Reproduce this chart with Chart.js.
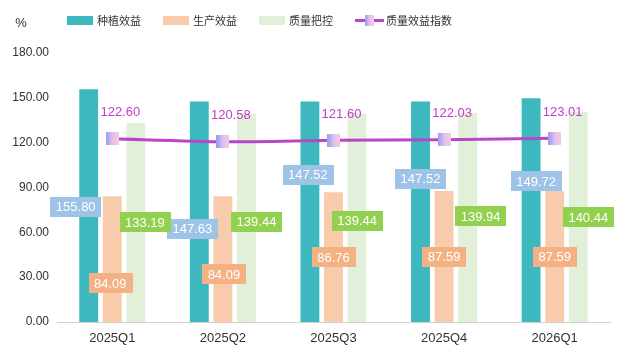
<!DOCTYPE html>
<html>
<head>
<meta charset="utf-8">
<script src="https://cdn.jsdelivr.net/npm/chart.js@4"></script>
<style>
  html, body { margin: 0; padding: 0; background: #fff; }
  #wrap { width: 626px; height: 358px; }
</style>
</head>
<body>
<div id="wrap"><canvas id="qualityChart" width="626" height="358"></canvas></div>
<script>
// data
const categories = ['2025Q1', '2025Q2', '2025Q3', '2025Q4', '2026Q1'];
const plantingBenefit = [155.80, 147.63, 147.52, 147.52, 149.72];
const productionBenefit = [84.09, 84.09, 86.76, 87.59, 87.59];
const qualityControl = [133.19, 139.44, 139.44, 139.94, 140.44];
const qualityIndex = [122.60, 120.58, 121.60, 122.03, 123.01];
const yMin = 0, yMax = 180, yStep = 30;

const FONT = '"Liberation Sans", Arial, "Noto Sans CJK SC", sans-serif';
const CJK = '"Noto Sans CJK SC", "Liberation Sans", sans-serif';

// label nudges (px) - labels were moved around in the original
const labelNudge = [
  { dx: [-13, -7, -2, 0, 5], dy: [1, 17, -37, -33, -29], bg: '#9dc3e6' },
  { dx: [-2, 1, 0, 0, 0], dy: [24, 15, 0, 0, 0], bg: '#f4b183' },
  { dx: [9, 10, 0, 13, 10], dy: [0, 4, 3, -1, 0], bg: '#92d050' }
];

// gradient square for the line points
function makeMarker(w, h) {
  const c = document.createElement('canvas');
  c.width = w; c.height = h;
  const g = c.getContext('2d');
  const grad = g.createLinearGradient(0, 0, w, 0);
  grad.addColorStop(0, '#9a98ee');
  grad.addColorStop(0.55, '#e2c4ee');
  grad.addColorStop(1, '#f7c9df');
  g.fillStyle = grad;
  g.fillRect(0, 0, w, h);
  return c;
}
const marker = makeMarker(13, 13);

const extras = {
  id: 'extras',
  afterDraw(chart) {
    const ctx = chart.ctx;
    ctx.save();
    // axis unit
    ctx.fillStyle = '#333';
    ctx.font = '13px ' + FONT;
    ctx.textAlign = 'center';
    ctx.textBaseline = 'middle';
    ctx.fillText('%', 21, 23);

    // legend
    let x = 67;
    const ly = 20;
    ctx.font = '11px ' + CJK;
    ctx.textAlign = 'left';
    chart.data.datasets.forEach((ds, i) => {
      if (ds.type === 'line') {
        ctx.strokeStyle = ds.borderColor;
        ctx.lineWidth = 3;
        ctx.beginPath();
        ctx.moveTo(x, ly + 0.5);
        ctx.lineTo(x + 29, ly + 0.5);
        ctx.stroke();
        ctx.drawImage(makeMarker(9, 11), x + 10, ly - 5);
        x += 31;
      } else {
        ctx.fillStyle = ds.backgroundColor;
        ctx.fillRect(x, ly - 4, 26, 9);
        x += 30;
      }
      ctx.fillStyle = '#333';
      ctx.fillText(ds.label, x, ly + 1);
      x += ctx.measureText(ds.label).width + 22;
    });

    // bar labels
    ctx.font = '13px ' + FONT;
    ctx.textAlign = 'center';
    for (let i = 0; i < 3; i++) {
      const meta = chart.getDatasetMeta(i);
      const ds = chart.data.datasets[i];
      meta.data.forEach((el, j) => {
        const txt = ds.data[j].toFixed(2);
        const cx = el.x + labelNudge[i].dx[j];
        const cy = (el.y + el.base) / 2 + labelNudge[i].dy[j];
        const w = ctx.measureText(txt).width + 11;
        ctx.fillStyle = labelNudge[i].bg;
        ctx.fillRect(Math.round(cx - w / 2), Math.round(cy - 10), Math.round(w), 20);
        ctx.fillStyle = '#fff';
        ctx.fillText(txt, cx, cy + 1);
      });
    }

    // line labels
    const lmeta = chart.getDatasetMeta(3);
    ctx.fillStyle = '#c23cc9';
    lmeta.data.forEach((pt, j) => {
      ctx.fillText(qualityIndex[j].toFixed(2), pt.x + 8, pt.y - 26);
    });
    ctx.restore();
  }
};

const qualityCtx = document.getElementById('qualityChart').getContext('2d');
const qualityChart = new Chart(qualityCtx, {
  type: 'bar',
  data: {
    labels: categories,
    datasets: [
      {
        label: '种植效益',
        data: plantingBenefit,
        backgroundColor: '#3db8be',
        order: 1
      },
      {
        label: '生产效益',
        data: productionBenefit,
        backgroundColor: '#f8cbab',
        order: 1
      },
      {
        label: '质量把控',
        data: qualityControl,
        backgroundColor: '#e2efd9',
        order: 1
      },
      {
        type: 'line',
        label: '质量效益指数',
        data: qualityIndex,
        borderColor: '#b946c7',
        borderWidth: 3,
        tension: 0.25,
        pointStyle: marker,
        order: 0
      }
    ]
  },
  options: {
    responsive: false,
    animation: false,
    categoryPercentage: 0.64,
    barPercentage: 0.8,
    layout: { padding: { left: 0, right: 16, top: 53, bottom: 0 } },
    plugins: {
      legend: { display: false },
      tooltip: { enabled: false }
    },
    scales: {
      x: {
        grid: { display: false, drawTicks: false },
        border: { color: '#d0d0d0', width: 1 },
        ticks: { color: '#333', font: { size: 13, family: FONT }, padding: 9 },
        afterFit: s => { s.height = 36; }
      },
      y: {
        min: yMin,
        max: yMax,
        grid: { display: false, drawTicks: false },
        border: { display: false },
        ticks: {
          stepSize: yStep,
          color: '#333',
          padding: 8,
          font: { size: 12, family: FONT },
          callback: v => v.toFixed(2)
        },
        afterFit: s => { s.width = 57; }
      }
    }
  },
  plugins: [extras]
});
</script>
</body>
</html>
